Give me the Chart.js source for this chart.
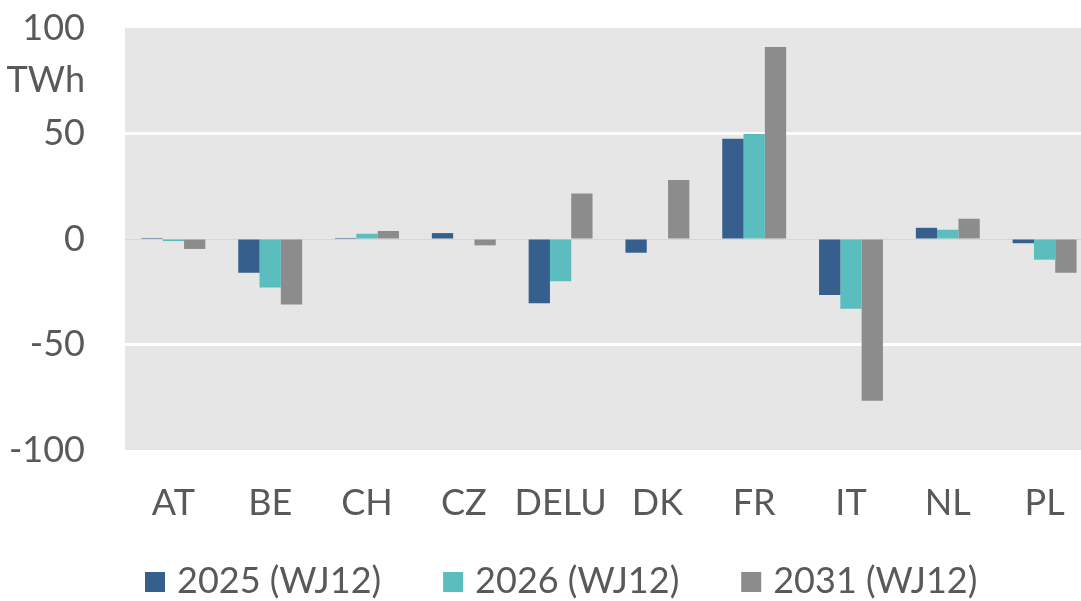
<!DOCTYPE html>
<html>
<head>
<meta charset="utf-8">
<script src="https://cdn.jsdelivr.net/npm/chart.js@4/dist/chart.umd.min.js"></script>
<style>
  html, body { margin: 0; padding: 0; background: #fff; }
  #wrap { width: 1081px; height: 601px; }
</style>
</head>
<body>
<div id="wrap"><canvas id="chart" width="1081" height="601"></canvas></div>
<script>
const countries = ['AT', 'BE', 'CH', 'CZ', 'DELU', 'DK', 'FR', 'IT', 'NL', 'PL'];
const y2025 = [0.5, -16, 0.5, 2.8, -30.5, -6.5, 47.5, -26.5, 5.3, -2];
const y2026 = [-1, -23, 2.5, 0, -20, 0, 49.8, -33, 4.4, -9.8];
const y2031 = [-4.7, -31, 3.8, -3, 21.6, 28, 91, -76.6, 9.6, -16];
const yTicks = [-100, -50, 0, 50, 75, 100];
const unitLabel = 'TWh';

const txt = '#595959';
const font = 'Lato, "Open Sans", sans-serif';

// grey plot background like the original
const plotBg = {
  id: 'plotBg',
  beforeDraw(chart) {
    const a = chart.chartArea, c = chart.ctx;
    c.save();
    c.fillStyle = '#e6e6e6';
    c.fillRect(a.left, a.top, a.right - a.left, a.bottom - a.top);
    c.restore();
  }
};

// the original plot is cut off at the right edge of the image,
// so let the category axis run a bit past the canvas
const overhang = {
  id: 'overhang',
  afterLayout(chart) {
    const x = chart.scales.x;
    x.right += 12;
    x.width += 12;
    x.configure();
  }
};

// legend drawn by hand so box/text gaps match the excel look
const bottomLegend = {
  id: 'bottomLegend',
  afterDraw(chart) {
    const c = chart.ctx;
    const y = 581, box = 20, gap = 12, space = 62;
    let x = 145;
    c.save();
    c.font = '36px ' + font;
    c.textBaseline = 'middle';
    chart.data.datasets.forEach(ds => {
      c.fillStyle = ds.backgroundColor;
      c.fillRect(x, y - box / 2 + 1, box, box);
      c.fillStyle = txt;
      c.fillText(ds.label, x + box + gap, y);
      x += box + gap + c.measureText(ds.label).width + space;
    });
    c.restore();
  }
};

new Chart(document.getElementById('chart'), {
  type: 'bar',
  data: {
    labels: countries,
    datasets: [
      { label: '2025 (WJ12)', data: y2025, backgroundColor: '#365f8e' },
      { label: '2026 (WJ12)', data: y2026, backgroundColor: '#5bbdbd' },
      { label: '2031 (WJ12)', data: y2031, backgroundColor: '#8c8c8c' },
    ]
  },
  options: {
    responsive: false,
    animation: false,
    layout: { padding: { top: 28, right: 0, left: 0, bottom: 0 } },
    datasets: { bar: { categoryPercentage: 0.66, barPercentage: 1 } },
    plugins: {
      legend: { display: false },
      tooltip: { enabled: false }
    },
    scales: {
      x: {
        grid: { display: false, drawTicks: false },
        border: { display: false },
        ticks: { color: txt, font: { family: font, size: 36 }, padding: 32, maxRotation: 0, autoSkip: false },
        afterFit(s) { s.height = 151; s.paddingLeft = 0; s.paddingRight = 0; }
      },
      y: {
        min: -100, max: 100,
        afterBuildTicks(s) { s.ticks = yTicks.map(v => ({ value: v })); },
        afterFit(s) { s.width = 125; s.paddingTop = 0; s.paddingBottom = 0; },
        border: { display: false },
        grid: {
          drawTicks: false,
          color: c => c.tick && c.tick.value === 0 ? '#d6d6d6' : ((c.tick && Math.abs(c.tick.value) === 50) ? '#ffffff' : 'rgba(0,0,0,0)'),
          lineWidth: c => c.tick && c.tick.value === 0 ? 1 : 3
        },
        ticks: {
          color: txt, font: { family: font, size: 36, lineHeight: 1 }, padding: 40,
          callback: v => v === 75 ? unitLabel : v
        }
      }
    }
  },
  plugins: [plotBg, overhang, bottomLegend]
});
</script>
</body>
</html>
